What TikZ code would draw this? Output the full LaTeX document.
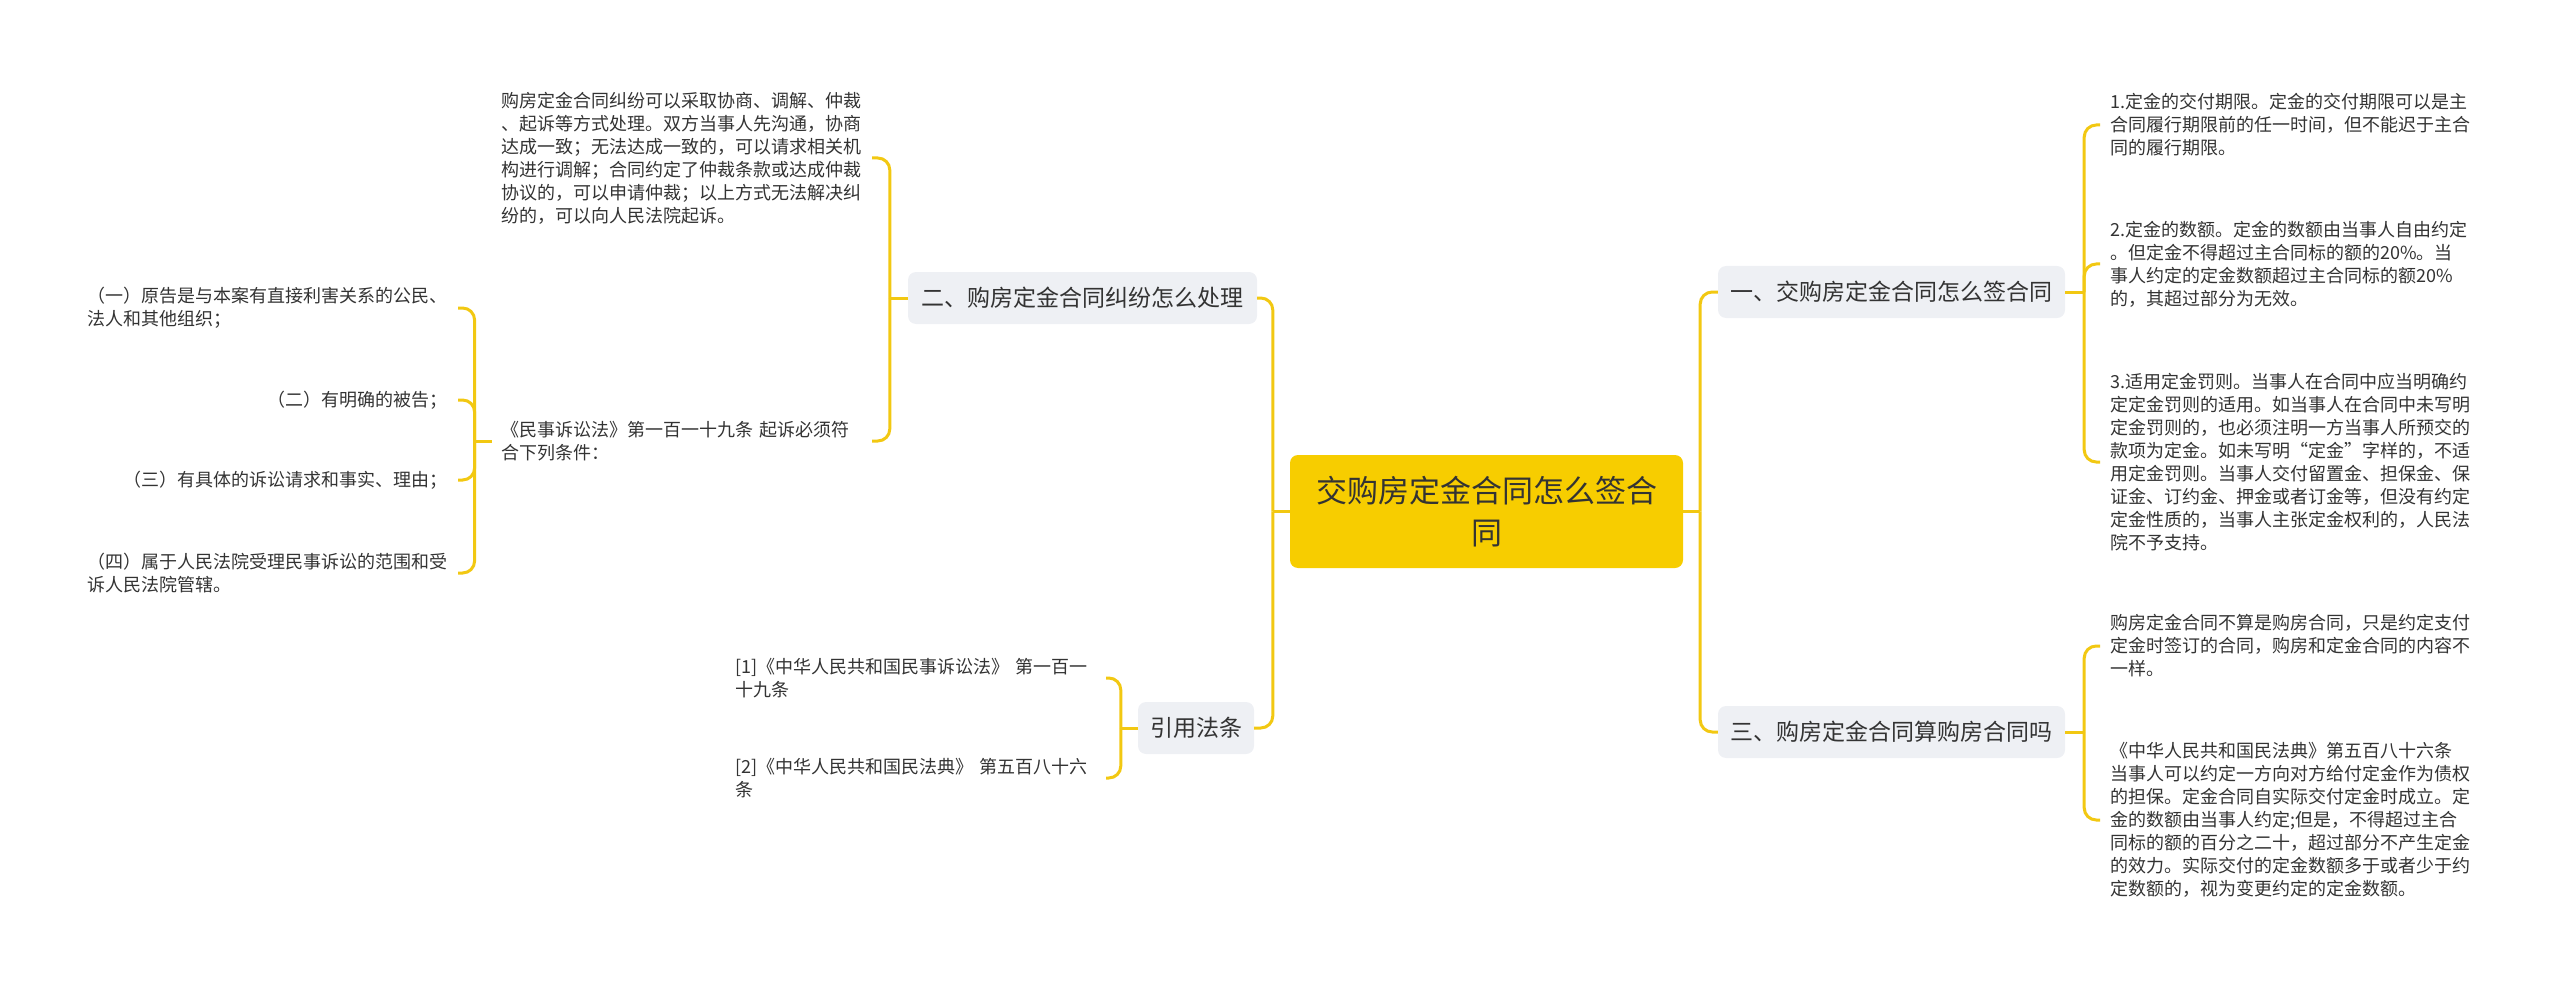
\documentclass[tikz,border=0pt]{standalone}
\usepackage{fontspec}
\setmainfont{Noto Sans CJK SC}
\definecolor{linecol}{RGB}{242,200,18}
\definecolor{centfill}{RGB}{247,205,0}
\definecolor{boxgray}{RGB}{238,240,244}
\definecolor{txt}{RGB}{51,51,51}
\begin{document}
\begin{tikzpicture}[x=1pt,y=-1pt,
  conn/.style={draw=linecol, line width=3pt},
  elbow/.style={conn, rounded corners=12pt},
  centre/.style={fill=centfill, rounded corners=8pt, minimum width=393pt, minimum height=113pt, align=center, text=txt, font=\fontsize{31}{42}\selectfont},
  branch/.style={fill=boxgray, rounded corners=8pt, minimum height=52pt, inner xsep=12pt, text=txt, font=\fontsize{23}{28}\selectfont},
  leaf/.style={text=txt, font=\fontsize{18}{23}\selectfont, inner xsep=10pt, inner ysep=2pt, align=left},
  leafw/.style={leaf, text width=360pt}]
\useasboundingbox (0,0) rectangle (2560,987);

% central and branches
\node[centre] (c) at (1486.5,511.5) {交购房定金合同怎么签合\\同};
\node[branch, minimum width=347pt] (n1) at (1891.5,292) {一、交购房定金合同怎么签合同};
\node[branch, minimum width=347pt] (n3) at (1891.5,732) {三、购房定金合同算购房合同吗};
\node[branch, minimum width=349pt] (n2) at (1082.5,298) {二、购房定金合同纠纷怎么处理};
\node[branch] (n4) at (1196,728) {引用法条};

% right leaves
\node[leafw, anchor=west] (r11) at (2100,125) {1.定金的交付期限。定金的交付期限可以是主\\合同履行期限前的任一时间，但不能迟于主合\\同的履行期限。};
\node[leafw, anchor=west] (r12) at (2100,264) {2.定金的数额。定金的数额由当事人自由约定\\。但定金不得超过主合同标的额的20\%。当\\事人约定的定金数额超过主合同标的额20\%\\的，其超过部分为无效。};
\node[leafw, anchor=west] (r13) at (2100,462) {3.适用定金罚则。当事人在合同中应当明确约\\定定金罚则的适用。如当事人在合同中未写明\\定金罚则的，也必须注明一方当事人所预交的\\款项为定金。如未写明“定金”字样的，不适\\用定金罚则。当事人交付留置金、担保金、保\\证金、订约金、押金或者订金等，但没有约定\\定金性质的，当事人主张定金权利的，人民法\\院不予支持。};
\node[leafw, anchor=west] (r31) at (2100,646) {购房定金合同不算是购房合同，只是约定支付\\定金时签订的合同，购房和定金合同的内容不\\一样。};
\node[leafw, anchor=west] (r32) at (2100,820) {《中华人民共和国民法典》第五百八十六条\\当事人可以约定一方向对方给付定金作为债权\\的担保。定金合同自实际交付定金时成立。定\\金的数额由当事人约定;但是，不得超过主合\\同标的额的百分之二十，超过部分不产生定金\\的效力。实际交付的定金数额多于或者少于约\\定数额的，视为变更约定的定金数额。};

% left leaves
\node[leafw, anchor=east] (l21) at (872,158) {购房定金合同纠纷可以采取协商、调解、仲裁\\、起诉等方式处理。双方当事人先沟通，协商\\达成一致；无法达成一致的，可以请求相关机\\构进行调解；合同约定了仲裁条款或达成仲裁\\协议的，可以申请仲裁；以上方式无法解决纠\\纷的，可以向人民法院起诉。};
\node[leafw, anchor=east] (l22) at (872,441) {《民事诉讼法》第一百一十九条 起诉必须符\\合下列条件：};
\node[leafw, anchor=east] (g1) at (458,308) {（一）原告是与本案有直接利害关系的公民、\\法人和其他组织；};
\node[leaf, anchor=east] (g2) at (458,400) {（二）有明确的被告；};
\node[leaf, anchor=east] (g3) at (458,480) {（三）有具体的诉讼请求和事实、理由；};
\node[leafw, anchor=east] (g4) at (458,573) {（四）属于人民法院受理民事诉讼的范围和受\\诉人民法院管辖。};
\node[leafw, anchor=east] (f1) at (1106,678) {[1]《中华人民共和国民事诉讼法》 第一百一\\十九条};
\node[leafw, anchor=east] (f2) at (1106,778) {[2]《中华人民共和国民法典》 第五百八十六\\条};

% connectors
\draw[conn] (c.east) -- ++(17,0) coordinate (tR);
\draw[elbow] (tR) |- (n1.west);
\draw[elbow] (tR) |- (n3.west);
\draw[conn] (c.west) -- ++(-17,0) coordinate (tL);
\draw[elbow] (tL) |- (n2.east);
\draw[elbow] (tL) |- (n4.east);

\draw[conn] (n1.east) -- ++(19,0) coordinate (t1);
\draw[elbow] (t1) |- (r11.west);
\draw[elbow] (t1) |- (r12.west);
\draw[elbow] (t1) |- (r13.west);
\draw[conn] (n3.east) -- ++(19,0) coordinate (t3);
\draw[elbow] (t3) |- (r31.west);
\draw[elbow] (t3) |- (r32.west);

\draw[conn] (n2.west) -- ++(-18,0) coordinate (t2);
\draw[elbow] (t2) |- (l21.east);
\draw[elbow] (t2) |- (l22.east);
\draw[conn] (l22.west) -- ++(-17,0) coordinate (t22);
\draw[elbow] (t22) |- (g1.east);
\draw[elbow] (t22) |- (g2.east);
\draw[elbow] (t22) |- (g3.east);
\draw[elbow] (t22) |- (g4.east);
\draw[conn] (n4.west) -- ++(-17,0) coordinate (t4);
\draw[elbow] (t4) |- (f1.east);
\draw[elbow] (t4) |- (f2.east);
\end{tikzpicture}
\end{document}
